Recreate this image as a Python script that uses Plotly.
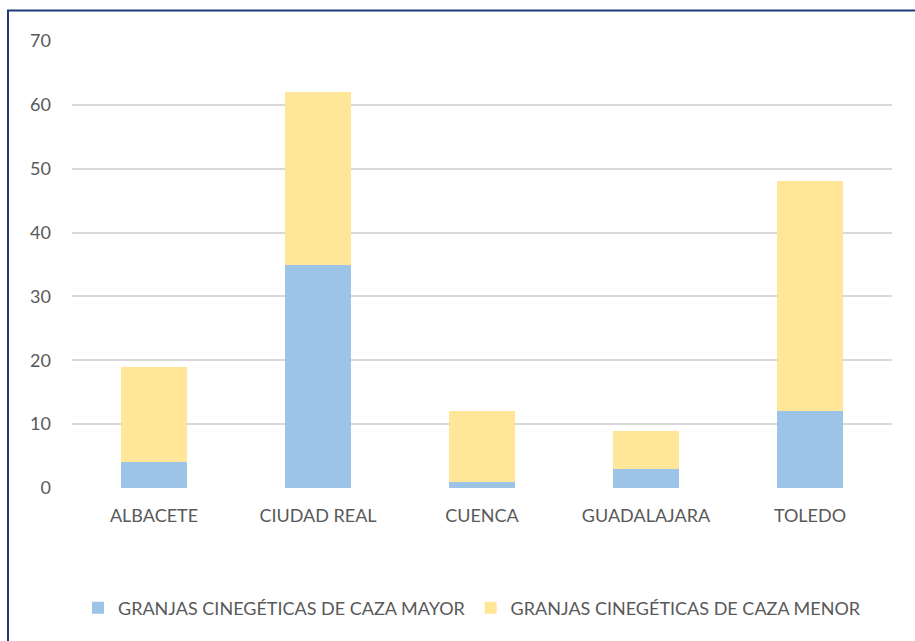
import plotly.graph_objects as go

categories = ["ALBACETE", "CIUDAD REAL", "CUENCA", "GUADALAJARA", "TOLEDO"]
mayor = [4, 35, 1, 3, 12]
menor = [15, 27, 11, 6, 36]
series_names = ["GRANJAS CINEGÉTICAS DE CAZA MAYOR", "GRANJAS CINEGÉTICAS DE CAZA MENOR"]
y_ticks = [0, 10, 20, 30, 40, 50, 60, 70]

W, H = 915, 641
L, R, T, B = 72, 23, 41, 153
pw, ph = W - L - R, H - T - B

fig = go.Figure()
fig.add_trace(go.Bar(x=categories, y=mayor, name=series_names[0],
                     marker=dict(color="#9DC3E6", line=dict(width=0)), width=0.4))
fig.add_trace(go.Bar(x=categories, y=menor, name=series_names[1],
                     marker=dict(color="#FFE699", line=dict(width=0)), width=0.4))

def px_x(x):
    return (x - L) / pw

def px_y(y):
    return (H - B - y) / ph

fig.add_shape(type="rect", xref="paper", yref="paper",
              x0=px_x(8), x1=px_x(940), y0=px_y(660), y1=px_y(10.5),
              line=dict(color="#1F3A78", width=2), fillcolor="rgba(0,0,0,0)", layer="above")

fig.update_layout(
    barmode="stack",
    width=W, height=H,
    margin=dict(l=L, r=R, t=T, b=B, pad=0),
    paper_bgcolor="white", plot_bgcolor="white",
    font=dict(family="Lato", size=18, color="#595959"),
    showlegend=True,
    legend=dict(orientation="h", x=px_x(472), xanchor="center", y=px_y(608), yanchor="middle",
                font=dict(size=18, color="#595959"), itemwidth=30, traceorder="normal"),
    bargap=0.6,
)
fig.update_xaxes(showgrid=False, zeroline=False, showline=False, ticks="",
                 tickfont=dict(size=18, color="#595959"), ticklabelstandoff=15)
fig.update_yaxes(range=[0, 70], tickvals=y_ticks, showgrid=True, gridcolor="#D9D9D9", gridwidth=1.5,
                 zeroline=False, showline=False, ticks="",
                 tickfont=dict(size=18, color="#595959"), ticklabelstandoff=20)

fig.write_html("out.html", config={"displayModeBar": False},
               post_script="document.body.style.margin='0';document.body.style.overflow='hidden';")
